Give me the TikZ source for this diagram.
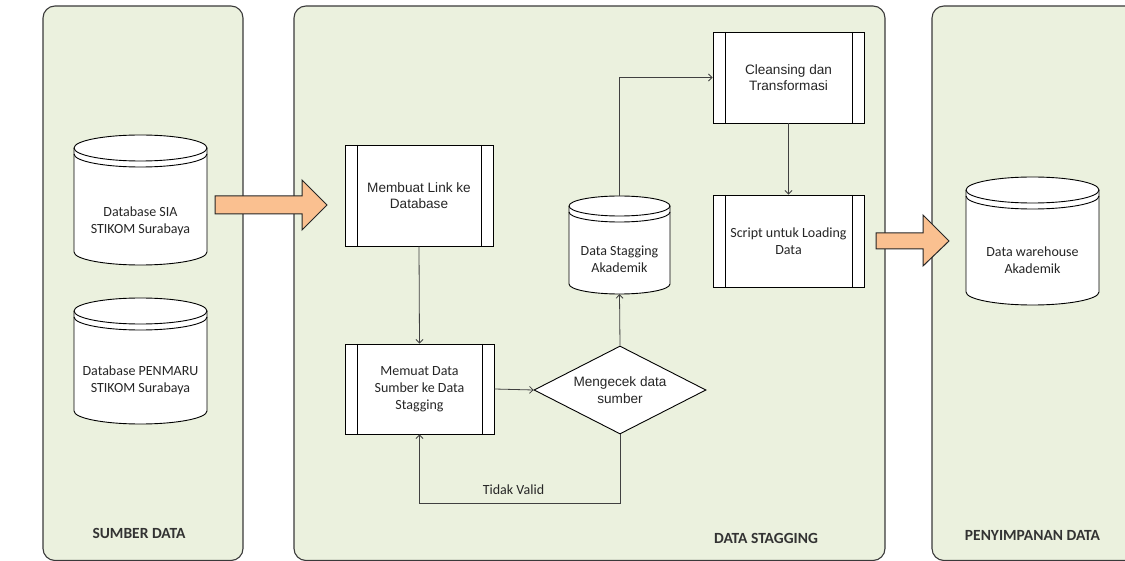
\documentclass[tikz,border=0pt]{standalone}
\usepackage{fontspec}
\setmainfont{Carlito}
\newfontfamily\arialf{Liberation Sans}
\usetikzlibrary{shapes.geometric,arrows.meta}
\definecolor{panelfill}{HTML}{EBF1DE}
\definecolor{panelline}{HTML}{3A3A3A}
\definecolor{arrowfill}{HTML}{FAC090}
\definecolor{txt}{HTML}{262626}
\definecolor{conn}{HTML}{404040}
\tikzset{
  panel/.style={draw=panelline, line width=1.1pt, fill=panelfill, rounded corners=12pt},
  bigarrow/.style={draw=black!85, line width=1pt, fill=arrowfill, line join=miter},
  procbox/.style={draw=black, line width=0.9pt, fill=white, rectangle, inner sep=0pt,
    align=center, font=\fontsize{14}{17}\selectfont, text=txt,
    path picture={
      \draw[line width=0.9pt] ([xshift=12pt]path picture bounding box.north west) -- ([xshift=12pt]path picture bounding box.south west);
      \draw[line width=0.9pt] ([xshift=-12pt]path picture bounding box.north east) -- ([xshift=-12pt]path picture bounding box.south east);
    }},
  arialtext/.style={font=\arialf\fontsize{13.6}{16.5}\selectfont},
  caltext/.style={font=\fontsize{14}{17}\selectfont, text=txt, align=center},
  dbshape/.style={draw=black, line width=0.9pt, fill=white},
  conline/.style={draw=conn, line width=0.8pt, -{Straight Barb[length=3.5pt,width=7pt]}},
  plainline/.style={draw=conn, line width=0.8pt},
  paneltitle/.style={font=\bfseries\fontsize{15.5}{18}\selectfont, text=black!80},
  cylbox/.style={inner sep=0pt, draw=none, rectangle}
}
% \dbcyl{name}{x1}{y1}{x2}{y2}{ry}
\newcommand\dbcyl[6]{%
  \pgfmathsetmacro\cxa{#2}\pgfmathsetmacro\cxb{#4}%
  \pgfmathsetmacro\cya{#3+#6}\pgfmathsetmacro\cyb{#5-#6}%
  \pgfmathsetmacro\crx{(#4-#2)/2}%
  \draw[dbshape] (\cxa,\cya) -- (\cxa,\cyb)
     arc[start angle=180,end angle=0,x radius=\crx,y radius=#6]
     -- (\cxb,\cya)
     arc[start angle=0,end angle=-180,x radius=\crx,y radius=#6] -- cycle;
  \draw[line width=0.9pt] (\cxa,\cya) arc[start angle=180,end angle=0,x radius=\crx,y radius=#6];
  \draw[line width=0.9pt] (\cxa,\cya+6) arc[start angle=180,end angle=0,x radius=\crx,y radius=#6];
  \node[cylbox, minimum width={(#4-#2)*1pt}, minimum height={(#5-#3)*1pt}] (#1) at ({(#2+#4)/2},{(#3+#5)/2}) {};
}
\begin{document}
\begin{tikzpicture}[x=1pt,y=-1pt]
\useasboundingbox (0,0) rectangle (1125,561);
\clip (0,0) rectangle (1125,561);
% panels
\draw[panel] (43,6) rectangle (243,560.5);
\draw[panel] (294,6) rectangle (885,560.5);
\draw[panel] (932,6) rectangle (1150,560.5);
% panel titles
\node[paneltitle] (t1) at (139,533.5) {SUMBER DATA};
\node[paneltitle] (t2) at (766,538) {DATA STAGGING};
\node[paneltitle] (t3) at (1032.5,535.5) {PENYIMPANAN DATA};
% databases
\dbcyl{sia}{74}{135}{207}{265}{13}
\node[caltext] (siat) at (140.5,221) {Database SIA\\STIKOM Surabaya};
\dbcyl{pmr}{74}{298}{207}{424}{13}
\node[caltext] (pmrt) at (140.5,380) {Database PENMARU\\STIKOM Surabaya};
\dbcyl{stag}{569}{196}{670}{294}{10}
\node[caltext] (stagt) at (619.5,259.5) {Data Stagging\\Akademik};
\dbcyl{dw}{966}{177}{1099}{305}{13}
\node[caltext] (dwt) at (1032.5,260) {Data warehouse\\Akademik};
% process boxes
\node[procbox, arialtext, minimum width=148pt, minimum height=101pt] (mlink) at (419,195.5) {Membuat Link ke\\Database};
\node[procbox, minimum width=149pt, minimum height=90pt] (memuat) at (419.5,389) {Memuat Data\\Sumber ke Data\\Stagging};
\node[procbox, arialtext, minimum width=151pt, minimum height=91pt] (clean) at (788.5,77.5) {Cleansing dan\\Transformasi};
\node[procbox, minimum width=151pt, minimum height=92pt] (script) at (788.5,241) {Script untuk Loading\\Data};
% decision
\node[diamond, draw=black, line width=0.9pt, fill=white, inner sep=0pt, aspect=1.95,
      minimum width=172pt, minimum height=88pt, align=center, arialtext, text=txt] (cek) at (620,390) {Mengecek data\\sumber};
% big arrows
\draw[bigarrow] (215,196) -- (302,196) -- (302,180) -- (327,205) -- (302,230) -- (302,214) -- (215,214) -- cycle;
\draw[bigarrow] (876,233) -- (923,233) -- (923,215) -- (949,241) -- (923,266) -- (923,249) -- (876,249) -- cycle;
% connectors
\draw[conline] (mlink.south) -- (memuat.north);
\draw[conline] (memuat.east) -- (cek.west);
\draw[conline] (cek.north) -- (stag.south);
\coordinate (loop) at (620,503);
\draw[conline] (cek.south) -- (loop) -| (memuat.south);
\node[caltext] (tv) at (513.5,490) {Tidak Valid};
\draw[conline] (stag.north) |- (clean.west);
\draw[conline] (clean.south) -- (script.north);
\end{tikzpicture}
\end{document}
